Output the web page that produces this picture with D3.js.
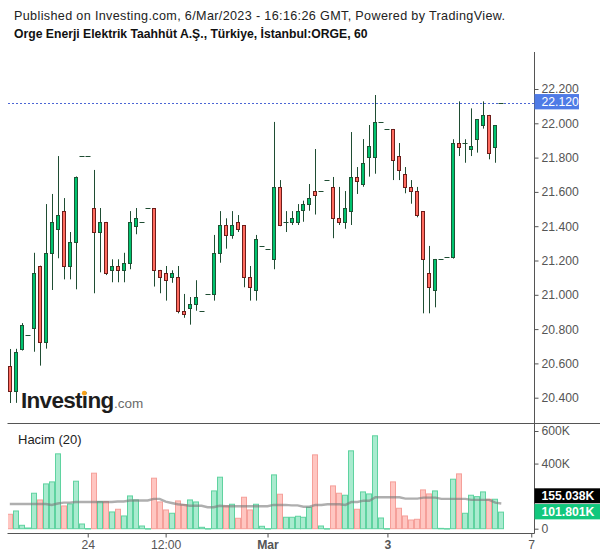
<!DOCTYPE html>
<html><head><meta charset="utf-8">
<script src="https://cdn.jsdelivr.net/npm/d3@7"></script>
<style>body{margin:0;background:#fff;} svg{display:block;font-family:"Liberation Sans",Arial,sans-serif;}</style>
</head><body>
<svg id="c" width="600" height="558"></svg>
<script>
// ---- data (hourly candles, ORGE) ----
const opens  = [20.585,20.441,20.683,20.764,20.805,21.166,20.723,21.242,21.382,21.488,21.166,21.306,21.808,21.808,21.504,21.364,21.423,21.143,21.168,21.143,21.184,21.403,21.423,21.504,21.504,21.143,21.125,21.102,21.102,20.904,20.921,20.944,20.904,21.003,21.003,21.242,21.405,21.347,21.423,21.405,21.102,21.026,21.283,21.265,21.207,21.627,21.423,21.423,21.423,21.497,21.528,21.603,21.603,21.668,21.627,21.446,21.423,21.486,21.685,21.644,21.805,21.805,22.006,21.965,21.965,21.808,21.703,21.627,21.603,21.486,21.125,21.026,21.207,21.222,21.222,21.883,21.883,21.848,21.907,21.988,22.047,21.864,22.120];
const highs  = [20.684,20.685,20.835,20.764,21.245,21.170,21.529,21.588,21.809,21.564,21.366,21.690,21.808,21.808,21.728,21.506,21.425,21.207,21.207,21.245,21.488,21.506,21.423,21.504,21.506,21.145,21.168,21.143,21.168,21.005,20.987,21.085,20.904,21.003,21.349,21.488,21.446,21.488,21.465,21.407,21.168,21.349,21.283,21.265,22.008,21.669,21.488,21.488,21.529,21.549,21.646,21.850,21.603,21.668,21.687,21.629,21.605,21.949,21.745,21.908,21.990,22.165,22.006,21.965,21.967,21.885,21.745,21.669,21.629,21.488,21.285,21.209,21.207,21.222,21.907,22.128,21.907,22.087,22.025,22.128,22.049,21.990,22.120];
const lows   = [20.369,20.370,20.675,20.764,20.668,20.587,20.686,21.028,21.213,21.090,21.090,21.032,21.808,21.808,21.009,21.131,21.115,21.073,21.073,21.073,21.149,21.353,21.423,21.504,21.048,21.009,20.966,21.070,20.892,20.866,20.826,20.907,20.904,21.003,20.966,21.187,21.269,21.327,21.366,21.044,20.966,20.966,21.283,21.265,21.149,21.400,21.366,21.407,21.407,21.426,21.490,21.468,21.603,21.668,21.330,21.407,21.385,21.407,21.588,21.630,21.689,21.706,22.006,21.965,21.669,21.669,21.592,21.531,21.452,20.892,20.892,20.927,21.207,21.222,21.211,21.809,21.770,21.809,21.829,21.969,21.790,21.770,22.120];
const closes = [20.441,20.665,20.822,20.764,21.125,20.723,21.242,21.423,21.465,21.166,21.306,21.685,21.808,21.808,21.364,21.423,21.127,21.168,21.143,21.184,21.423,21.446,21.423,21.504,21.143,21.102,21.084,21.125,20.904,20.886,20.944,20.985,20.904,21.003,21.242,21.405,21.347,21.405,21.382,21.102,21.044,21.324,21.283,21.265,21.627,21.405,21.423,21.446,21.487,21.529,21.564,21.584,21.603,21.668,21.445,21.423,21.504,21.685,21.665,21.767,21.866,22.006,22.006,21.965,21.784,21.726,21.627,21.603,21.464,21.207,21.044,21.207,21.207,21.222,21.883,21.864,21.883,21.866,22.023,22.047,21.825,21.988,22.120];
// volume in thousands
const volumes = [88.6,108.9,20.9,4.3,217.8,176.6,275.1,287.4,459.7,139.7,152,291.7,28.9,1,340.9,166.2,166.2,102.8,119.4,78.2,201.2,176.6,16.6,0.5,310.2,164.3,115.1,94.8,170.5,147.7,176.6,164.3,8.6,0.5,232,316.3,139.7,150.2,64,193.2,115.1,150.2,14.8,0.5,330.5,211.7,70.2,70.2,76.3,70.2,131.7,453.5,16.6,0.5,262.8,217.8,205.5,478.2,119.4,225.9,213.5,570.5,65.8,0.5,287.4,125.5,78.2,53.5,57.8,238.2,213.5,232,2,0.5,304,336.6,94.8,205.5,196.9,225.9,180.9,180.9,101.801];
// Hacim (20) moving average (thousands)
const volumeMA = [152,152,152,152,152,152,152,146,155,160,160,164,164,164,164,164,164,164,167,167,173,173,173,173,183,183,166,158,150,146,141,141,141,132,132,141,138,138,138,138,138,138,138,138,146,146,146,143,143,135,135,146,146,150,150,150,146,164,164,172,172,193,193,193,193,193,185,185,185,191,191,191,183,183,183,183,183,177,177,177,177,160,155.038];
const priceTicks = [20.4,20.6,20.8,21.0,21.2,21.4,21.6,21.8,22.0,22.2];
const volumeTicks = [0,400,600];
const xTickLabels = ["24","12:00","Mar","3","7"];
const xTickIndex = [13,26,43,63,87];
const xTickBold = [false,false,true,true,false];
const lastPrice = 22.120, lastMA = 155.038, lastVolume = 101.801;
const titleLine1 = "Published on Investing.com, 6/Mar/2023 - 16:16:26 GMT, Powered by TradingView.";
const titleLine2 = "Orge Enerji Elektrik Taahhüt A.Ş., Türkiye, İstanbul:ORGE, 60";

// ---- drawing ----
const svg = d3.select("#c");
const plotL = 7.5, axisX = 534.5, topY = 52, sepY = 423.5, botY = 533.5;
const x = d3.scaleLinear().domain([0, 81]).range([9.8, 495.3]);
const y = d3.scaleLinear().domain([20.4, 22.2]).range([397.7, 89]);
const yv = d3.scaleLinear().domain([0, 600]).range([528.7, 431]);

const upFill = "#00c26e", upLine = "#1d5435", dnFill = "#ff6b5f", dnLine = "#6e1d1a", wickCol = "#1f4d33";
const vUpFill = "#a9ebcf", vUpLine = "#5fd3a0", vDnFill = "#ffc6c1", vDnLine = "#f5a09a";

svg.append("text").attr("x", 14).attr("y", 20).attr("font-size", 12.6).attr("fill", "#222")
  .attr("textLength", 491).attr("lengthAdjust", "spacing").text(titleLine1);
svg.append("text").attr("x", 14).attr("y", 38).attr("font-size", 12.2).attr("font-weight", "bold").attr("fill", "#111").text(titleLine2);

const defs = svg.append("defs");
defs.append("clipPath").attr("id", "pclip").append("rect").attr("x", 8).attr("y", topY).attr("width", axisX - 8).attr("height", sepY - topY);
defs.append("clipPath").attr("id", "vclip").append("rect").attr("x", 8).attr("y", sepY + 0.5).attr("width", axisX - 8).attr("height", botY - sepY - 1);

// watermark
const wm = svg.append("g");
const wt = wm.append("text").attr("x", 21).attr("y", 408).attr("font-size", 22.5).attr("font-weight", "bold").attr("fill", "#1d1d1d").attr("letter-spacing", -0.7).text("Investing");
const wlen = wt.node().getComputedTextLength();
wm.append("text").attr("x", 21 + wlen + 0.5).attr("y", 408).attr("font-size", 13.5).attr("fill", "#6a6a6a").text(".com");
try {
  const ext = wt.node().getExtentOfChar(6);
  wm.append("circle").attr("cx", ext.x + ext.width / 2 - 0.3).attr("cy", 393.2).attr("r", 2.4).attr("fill", "#f7a21b");
} catch (e) {}

const idx = d3.range(opens.length);
const px = i => Math.round(x(i));

// price pane
const pg = svg.append("g").attr("clip-path", "url(#pclip)");
pg.append("line").attr("x1", 8).attr("x2", axisX).attr("y1", Math.round(y(lastPrice)) + 0.5).attr("y2", Math.round(y(lastPrice)) + 0.5)
  .attr("stroke", "#4c66d4").attr("stroke-width", 1).attr("stroke-dasharray", "2,2");

idx.forEach(i => {
  const o = opens[i], h = highs[i], l = lows[i], c = closes[i];
  const cx = px(i);
  const up = c >= o;
  const yTop = y(Math.max(o, c)), yBot = y(Math.min(o, c));
  if (h > Math.max(o, c) || l < Math.min(o, c)) {
    pg.append("line").attr("x1", cx + 0.5).attr("x2", cx + 0.5).attr("y1", y(h)).attr("y2", y(l))
      .attr("stroke", wickCol).attr("stroke-width", 1);
  }
  if (yBot - yTop < 1.5) {
    pg.append("line").attr("x1", cx - 2.5).attr("x2", cx + 2.5).attr("y1", Math.round(yTop) + 0.5).attr("y2", Math.round(yTop) + 0.5)
      .attr("stroke", wickCol).attr("stroke-width", 1.2);
  } else {
    pg.append("rect").attr("x", cx - 1.5).attr("y", Math.round(yTop) + 0.5).attr("width", 3).attr("height", Math.round(yBot) - Math.round(yTop))
      .attr("fill", up ? upFill : dnFill).attr("stroke", up ? upLine : dnLine).attr("stroke-width", 1);
  }
});

// volume pane
const vg = svg.append("g").attr("clip-path", "url(#vclip)");
idx.forEach(i => {
  const cx = px(i);
  const up = closes[i] >= opens[i];
  const top = yv(volumes[i]);
  const hgt = Math.max(0.5, yv(0) - top);
  vg.append("rect").attr("x", cx - 2.5).attr("y", top).attr("width", 5).attr("height", hgt)
    .attr("fill", up ? vUpFill : vDnFill).attr("stroke", up ? vUpLine : vDnLine).attr("stroke-width", 1);
});
vg.append("path").datum(idx).attr("fill", "none").attr("stroke", "#7a7a7a").attr("stroke-opacity", 0.6).attr("stroke-width", 2.4)
  .attr("d", d3.line().x(i => x(i)).y(i => yv(volumeMA[i])));

svg.append("text").attr("x", 18).attr("y", 444).attr("font-size", 13).attr("fill", "#222").text("Hacim (20)");

// frame lines
svg.append("line").attr("x1", plotL).attr("x2", 600).attr("y1", sepY).attr("y2", sepY).attr("stroke", "#555").attr("stroke-width", 1);
svg.append("line").attr("x1", plotL).attr("x2", axisX).attr("y1", botY).attr("y2", botY).attr("stroke", "#555").attr("stroke-width", 1);
svg.append("line").attr("x1", axisX).attr("x2", axisX).attr("y1", topY).attr("y2", botY).attr("stroke", "#555").attr("stroke-width", 1);

// price axis
const pa = svg.append("g").attr("transform", `translate(${axisX},0)`)
  .call(d3.axisRight(y).tickValues(priceTicks).tickFormat(d3.format(".3f")).tickSize(4).tickSizeOuter(0).tickPadding(3));
pa.select(".domain").remove();
pa.selectAll("line").attr("stroke", "#555");
pa.selectAll("text").attr("font-size", 12.2).attr("fill", "#555").attr("font-family", "Liberation Sans, Arial, sans-serif");

// volume axis
const va = svg.append("g").attr("transform", `translate(${axisX},0)`)
  .call(d3.axisRight(yv).tickValues(volumeTicks).tickFormat(d => d === 0 ? "0" : d + "K").tickSize(4).tickSizeOuter(0).tickPadding(3));
va.select(".domain").remove();
va.selectAll("line").attr("stroke", "#555");
va.selectAll("text").attr("font-size", 12.2).attr("fill", "#555").attr("font-family", "Liberation Sans, Arial, sans-serif");

// time axis
const xa = svg.append("g").attr("transform", `translate(0,${botY})`)
  .call(d3.axisBottom(x).tickValues(xTickIndex).tickFormat((d, k) => xTickLabels[k]).tickSize(4).tickSizeOuter(0).tickPadding(3));
xa.select(".domain").remove();
xa.selectAll("line").attr("stroke", "#555");
xa.selectAll("text").attr("font-size", 12.2).attr("fill", "#555").attr("font-family", "Liberation Sans, Arial, sans-serif")
  .attr("font-weight", (d, k) => xTickBold[k] ? "bold" : "normal");

// value labels
function tag(yc, h, w, fill, txt, bold) {
  svg.append("rect").attr("x", axisX).attr("y", yc - h / 2).attr("width", w).attr("height", h).attr("fill", fill);
  svg.append("text").attr("x", axisX + 7).attr("y", yc + 4.3).attr("font-size", 12.2).attr("fill", "#fff")
    .attr("font-weight", bold ? "bold" : "normal").text(txt);
}
tag(101.7, 15.3, 44.5, "#4f7be6", d3.format(".3f")(lastPrice), false);
tag(495.8, 15, 66, "#000", d3.format(".3f")(lastMA) + "K", true);
tag(511.7, 15.3, 66, "#12c77d", d3.format(".3f")(lastVolume) + "K", true);
</script>
</body></html>
